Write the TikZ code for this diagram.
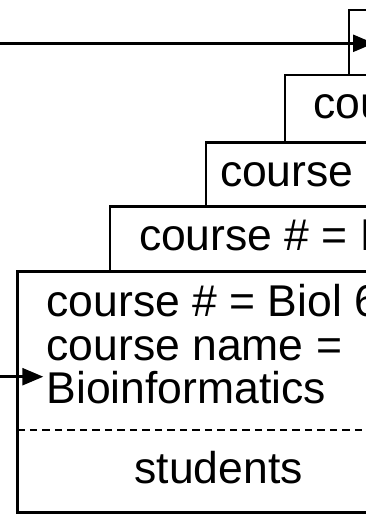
\documentclass[tikz,border=0pt]{standalone}
\usepackage{fontspec}
\setmainfont{Liberation Sans}
\usetikzlibrary{arrows.meta}
\begin{document}
\begin{tikzpicture}[x=1pt,y=-1pt,
  card/.style={draw,fill=white,line width=2.6pt,inner sep=0pt,outer sep=0pt,
    anchor=north west,minimum width=420pt},
  entry/.style={anchor=base west,inner sep=0pt,outer sep=0pt,
    font=\fontsize{44.5}{45}\selectfont},
  link/.style={line width=2.6pt,-{Triangle[length=21pt,width=17pt]}},
  divider/.style={line width=2.4pt,dash pattern=on 7.5pt off 5pt}]
  \useasboundingbox (0,0) rectangle (366,519);
  \clip (0,0) rectangle (366,519);

  % stack of course records, back to front
  \node[card,minimum height=300pt] (c1) at (349,10) {};
  \coordinate (src1) at (0,43.3);
  \coordinate (dst1) at (374,43.3);
  \draw[link] (src1) -- (dst1);

  \node[card,minimum height=300pt] (c2) at (285,75) {};
  \node[entry] (t2) at (313.5,118.5) {course};

  \node[card,minimum height=300pt] (c3) at (206,142.5) {};
  \node[entry] (t3) at (220,186.7) {course};

  \node[card,minimum height=280pt] (c4) at (110,206.7) {};
  \node[entry] (t4) at (139,250) {course \# = B};

  \node[card,minimum height=241pt] (c5) at (17.3,271.5) {};
  \node[entry] (t5a) at (46.5,316) {course \# = Biol 6};
  \node[entry] (t5b) at (46.5,360) {course name =};
  \node[entry] (t5c) at (46.5,403.5) {Bioinformatics};
  \draw[divider] ([yshift=-158.5pt]c5.north west) -- ([yshift=-158.5pt]c5.north east);
  \node[entry] (t5d) at (134.5,483) {students};

  \coordinate (src5) at (0,376.7);
  \coordinate (dst5) at (43.3,376.7);
  \draw[link] (src5) -- (dst5);
\end{tikzpicture}
\end{document}
